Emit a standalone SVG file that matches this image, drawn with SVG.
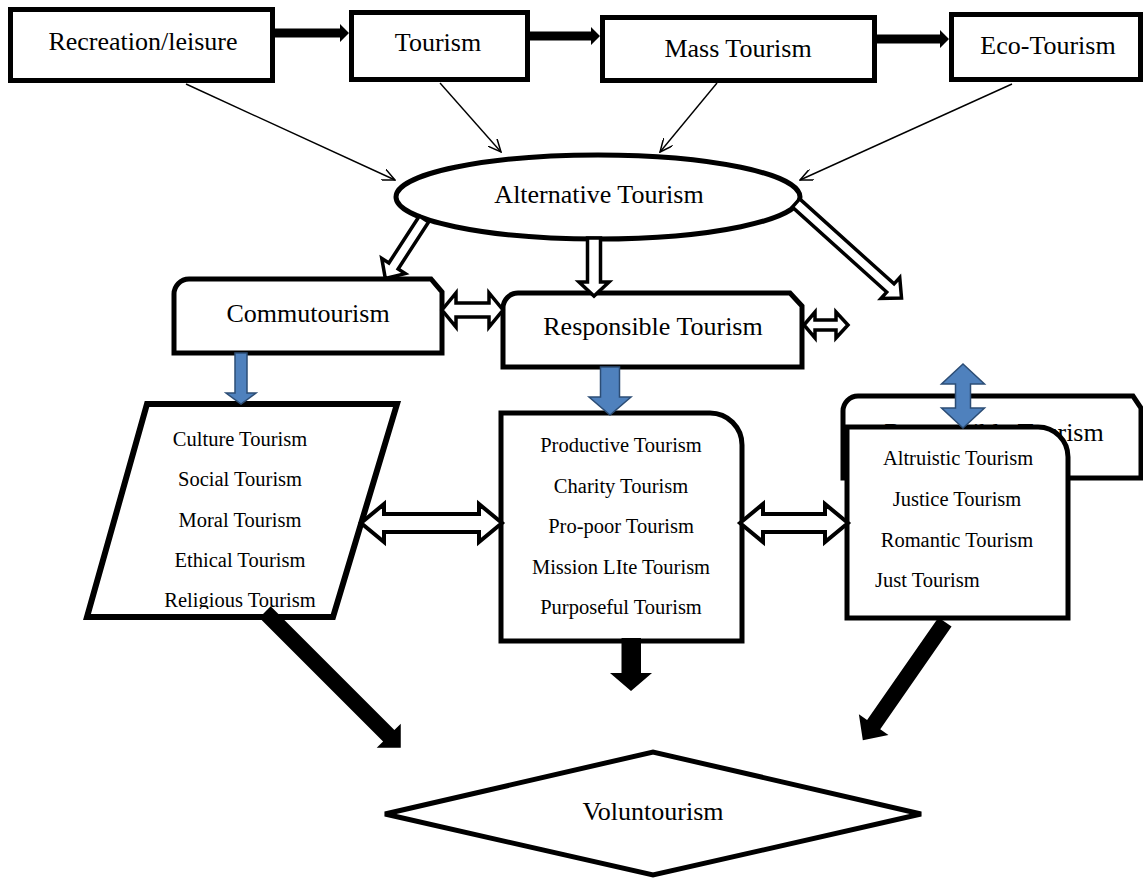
<svg xmlns="http://www.w3.org/2000/svg" width="1143" height="878" viewBox="0 0 1143 878">
<style>
.box{fill:#fff;stroke:#000;stroke-width:5}
.t{font-family:"Liberation Serif","Times New Roman",serif;font-size:26px;fill:#000;text-anchor:middle}
.s{font-family:"Liberation Serif","Times New Roman",serif;font-size:20.5px;fill:#000;text-anchor:middle}
.thin{stroke:#000;stroke-width:1.4;fill:none}
.hollow{fill:#fff;stroke:#000;stroke-width:3.5;stroke-linejoin:miter}
.blue{fill:#4F81BD;stroke:#2C4D75;stroke-width:1.5}
.solid{fill:#000}
</style>
<defs>
<marker id="open" viewBox="0 0 14 12" refX="13" refY="6" markerWidth="14" markerHeight="12" markerUnits="userSpaceOnUse" orient="auto">
<path d="M0,0 L13,6 L0,12" fill="none" stroke="#000" stroke-width="1.5"/>
</marker>
<clipPath id="clipPar"><rect x="0" y="380" width="450" height="229"/></clipPath>
</defs>
<rect width="1143" height="878" fill="#fff"/>

<g id="recreation"><rect class="box" x="10.5" y="9.5" width="262" height="71"/><text class="t" x="143" y="50">Recreation/leisure</text></g>
<g id="tourism"><rect class="box" x="351.5" y="12.5" width="176" height="67"/><text class="t" x="438" y="51">Tourism</text></g>
<g id="mass-tourism"><rect class="box" x="602.5" y="17.5" width="272" height="63"/><text class="t" x="738" y="57">Mass Tourism</text></g>
<g id="eco-tourism"><rect class="box" x="951.5" y="14.5" width="189" height="65"/><text class="t" x="1048" y="54">Eco-Tourism</text></g>

<g id="alternative-tourism"><ellipse class="box" cx="598" cy="197" rx="202" ry="42"/><text class="t" x="599" y="203">Alternative Tourism</text></g>

<g id="commutourism"><path class="box" d="M174,294 A15,15 0 0 1 189,279 H431 L442,292 V353 H174 Z"/><text class="t" x="308" y="322">Commutourism</text></g>
<g id="responsible-tourism"><path class="box" d="M503,308 A15,15 0 0 1 518,293 H790 L802,306 V367 H503 Z"/><text class="t" x="653" y="335">Responsible Tourism</text></g>

<g id="list-left">
<polygon class="box" style="stroke-width:6" points="147,404 397,404 333,617 87,617"/>
<g clip-path="url(#clipPar)">
<text class="s" x="240" y="446">Culture Tourism</text>
<text class="s" x="240" y="486">Social Tourism</text>
<text class="s" x="240" y="527">Moral Tourism</text>
<text class="s" x="240" y="567">Ethical Tourism</text>
<text class="s" x="240" y="607">Religious Tourism</text>
</g>
</g>

<g id="list-middle">
<path class="box" d="M501,413 H710 A32,32 0 0 1 742,445 V641 H501 Z"/>
<text class="s" x="621" y="452">Productive Tourism</text>
<text class="s" x="621" y="493">Charity Tourism</text>
<text class="s" x="621" y="533">Pro-poor Tourism</text>
<text class="s" x="621" y="574">Mission LIte Tourism</text>
<text class="s" x="621" y="614">Purposeful Tourism</text>
</g>

<g id="responsible-tourism-back"><path class="box" d="M843,411 A15,15 0 0 1 858,396 H1133 L1141,408 V478 H843 Z"/><text class="t" x="994" y="441">Responsible Tourism</text></g>

<g id="list-right">
<path class="box" d="M847,427 H1038 A30,30 0 0 1 1068,457 V618 H847 Z"/>
<text class="s" x="958" y="465">Altruistic Tourism</text>
<text class="s" x="957" y="506">Justice Tourism</text>
<text class="s" x="957" y="547">Romantic Tourism</text>
<text class="s" x="875" y="587" style="text-anchor:start">Just Tourism</text>
</g>

<g id="voluntourism"><polygon class="box" points="385,814 653,752 921,814 653,875"/><text class="t" x="653" y="820">Voluntourism</text></g>

<g id="connectors">
<polygon class="solid" points="275,28.5 340,28.5 340,24 349,33 340,42 340,37.5 275,37.5"/>
<polygon class="solid" points="530,31.5 591,31.5 591,27 600,36 591,45 591,40.5 530,40.5"/>
<polygon class="solid" points="877,34.5 940,34.5 940,30 949,39 940,48 940,43.5 877,43.5"/>

<line class="thin" x1="186" y1="84" x2="395" y2="180" marker-end="url(#open)"/>
<line class="thin" x1="440" y1="83" x2="501" y2="152" marker-end="url(#open)"/>
<line class="thin" x1="717" y1="83" x2="660" y2="152" marker-end="url(#open)"/>
<line class="thin" x1="1012" y1="84" x2="800" y2="180" marker-end="url(#open)"/>

<polygon class="hollow" transform="translate(424,219) rotate(123)" points="0,-5.5 56,-5.5 56,-14 71,0 56,14 56,5.5 0,5.5"/>
<polygon class="hollow" transform="translate(594,238) rotate(90)" points="0,-6.5 44,-6.5 44,-15 58,0 44,15 44,6.5 0,6.5"/>
<polygon class="hollow" transform="translate(796,203) rotate(42)" points="0,-5.5 127,-5.5 127,-14 142,0 127,14 127,5.5 0,5.5"/>

<polygon class="hollow" points="442,310 456,293 456,303 489,303 489,293 503,310 489,327 489,317 456,317 456,327"/>
<polygon class="hollow" points="804,325 815,312 815,320 836,320 836,312 848,325 836,338 836,330 815,330 815,338"/>
<polygon class="hollow" style="stroke-width:4" points="361,523 384,504 384,514 479,514 479,504 502,523 479,542 479,532 384,532 384,542"/>
<polygon class="hollow" style="stroke-width:4" points="740,523 763,504 763,514 825,514 825,504 848,523 825,542 825,532 763,532 763,542"/>

<polygon class="blue" points="235,353 247,353 247,393 256,393 241,404 226,393 235,393"/>
<polygon class="blue" points="600.5,367 619.5,367 619.5,397 631,397 610,415 589,397 600.5,397"/>
<polygon class="blue" points="963,364 984.5,384 970.5,384 970.5,408 984.5,408 963,428 941.5,408 955.5,408 955.5,384 941.5,384"/>

<polygon class="solid" transform="translate(265,612) rotate(45)" points="0,-8 175,-8 175,-17 192,0 175,17 175,8 0,8"/>
<polygon class="solid" transform="translate(945,622) rotate(124.8)" points="0,-8 125,-8 125,-18 144,0 125,18 125,8 0,8"/>
<polygon class="solid" points="621.5,638 641,638 641,673 652,673 631,691 610,673 621.5,673"/>
</g>
</svg>
